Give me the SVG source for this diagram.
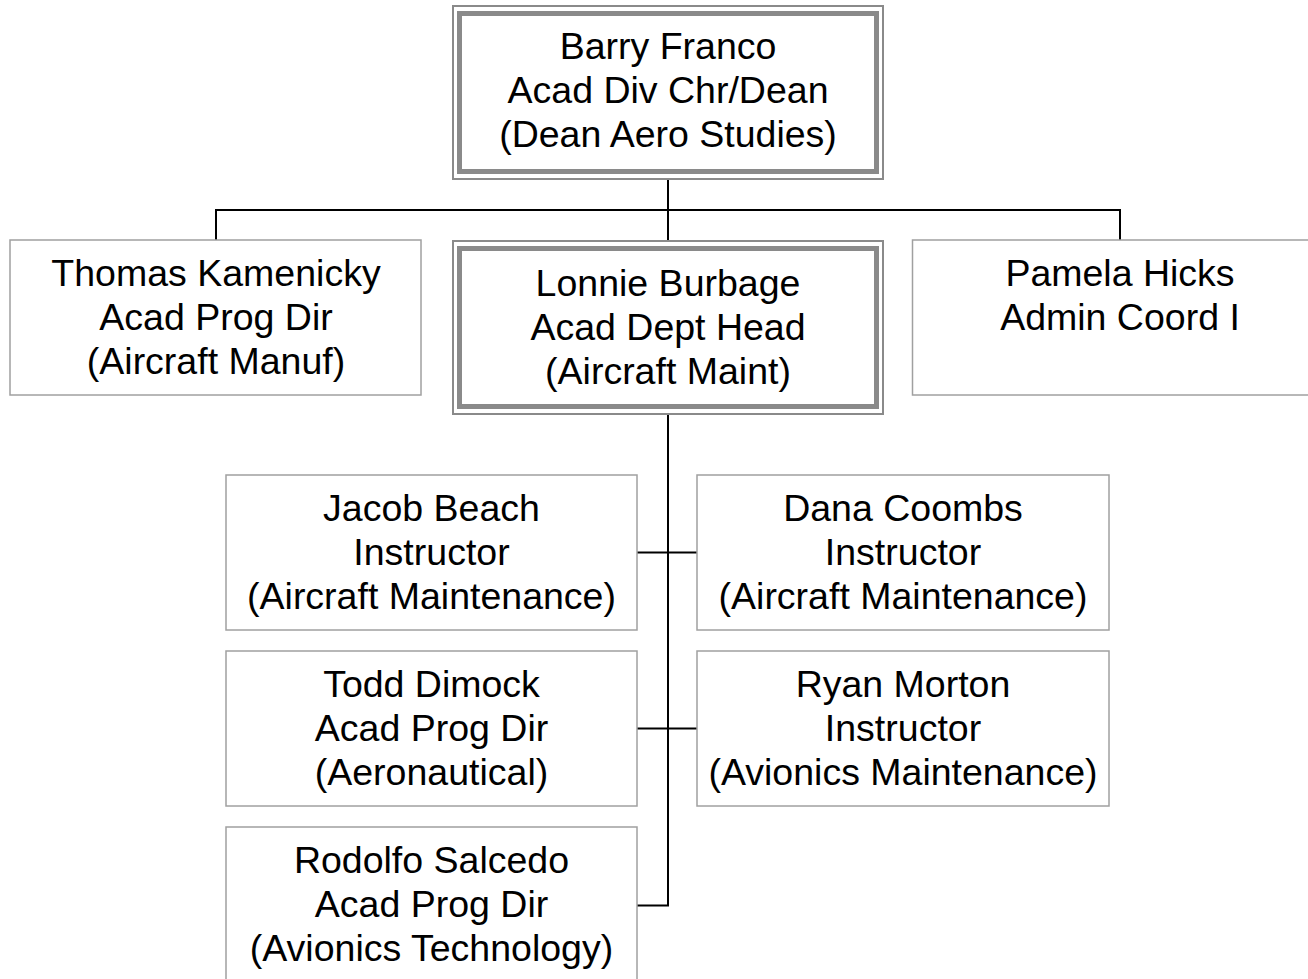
<svg xmlns="http://www.w3.org/2000/svg" width="1308" height="979" viewBox="0 0 1308 979">
<style>
.box{fill:#fff;stroke:#a0a0a0;stroke-width:1.5}
.dbo{fill:#fff;stroke:#8a8a8a;stroke-width:2}
.dbi{fill:none;stroke:#8a8a8a;stroke-width:5}
.t{font-family:"Liberation Sans",Arial,sans-serif;font-size:37.5px;fill:#000;text-anchor:middle}
.c{fill:none;stroke:#000;stroke-width:2}
</style>
<rect width="1308" height="979" fill="#fff"/>
<g id="connectors">
<path class="c" d="M668 180V240M216 210H1120M216 209V240M1120 209V240"/>
<path class="c" d="M668 415V905.5H637M637 552.5H697M637 728.5H697"/>
</g>
<g id="barry">
<rect class="dbo" x="453" y="6" width="430" height="173"/>
<rect class="dbi" x="459.5" y="13.5" width="417" height="158"/>
<text class="t" x="668" y="59">Barry Franco</text>
<text class="t" x="668" y="103">Acad Div Chr/Dean</text>
<text class="t" x="668" y="147">(Dean Aero Studies)</text>
</g>
<g id="thomas">
<rect class="box" x="10" y="240" width="411" height="155"/>
<text class="t" x="216" y="286">Thomas Kamenicky</text>
<text class="t" x="216" y="330">Acad Prog Dir</text>
<text class="t" x="216" y="374">(Aircraft Manuf)</text>
</g>
<g id="lonnie">
<rect class="dbo" x="453" y="241" width="430" height="173"/>
<rect class="dbi" x="459.5" y="248.5" width="417" height="158"/>
<text class="t" x="668" y="296">Lonnie Burbage</text>
<text class="t" x="668" y="340">Acad Dept Head</text>
<text class="t" x="668" y="384">(Aircraft Maint)</text>
</g>
<g id="pamela">
<rect class="box" x="912.5" y="240" width="420" height="155"/>
<text class="t" x="1120" y="286">Pamela Hicks</text>
<text class="t" x="1120" y="330">Admin Coord I</text>
</g>
<g id="jacob">
<rect class="box" x="226" y="475" width="411" height="155"/>
<text class="t" x="431.5" y="521">Jacob Beach</text>
<text class="t" x="431.5" y="565">Instructor</text>
<text class="t" x="431.5" y="609">(Aircraft Maintenance)</text>
</g>
<g id="dana">
<rect class="box" x="697" y="475" width="412" height="155"/>
<text class="t" x="903" y="521">Dana Coombs</text>
<text class="t" x="903" y="565">Instructor</text>
<text class="t" x="903" y="609">(Aircraft Maintenance)</text>
</g>
<g id="todd">
<rect class="box" x="226" y="651" width="411" height="155"/>
<text class="t" x="431.5" y="697">Todd Dimock</text>
<text class="t" x="431.5" y="741">Acad Prog Dir</text>
<text class="t" x="431.5" y="785">(Aeronautical)</text>
</g>
<g id="ryan">
<rect class="box" x="697" y="651" width="412" height="155"/>
<text class="t" x="903" y="697">Ryan Morton</text>
<text class="t" x="903" y="741">Instructor</text>
<text class="t" x="903" y="785">(Avionics Maintenance)</text>
</g>
<g id="rodolfo">
<rect class="box" x="226" y="827" width="411" height="160"/>
<text class="t" x="431.5" y="873">Rodolfo Salcedo</text>
<text class="t" x="431.5" y="917">Acad Prog Dir</text>
<text class="t" x="431.5" y="961">(Avionics Technology)</text>
</g>
</svg>
